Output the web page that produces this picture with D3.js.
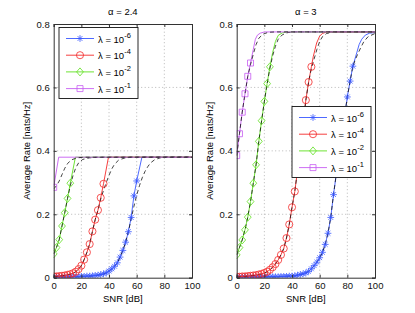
<!DOCTYPE html>
<html>
<head>
<meta charset="utf-8">
<script src="https://cdn.jsdelivr.net/npm/d3@7"></script>
<style>
  body { margin: 0; background: #fff; }
  svg { display: block; font-family: "Liberation Sans", Arial, sans-serif; }
</style>
</head>
<body>
<div id="chart"></div>
<script>
// SNR grid (dB) shared by the simulated points
const snr = [0, 2, 4, 6, 8, 10, 12, 14, 16, 18, 20, 22, 24, 26, 28, 30, 32, 34, 36, 38, 40,
  42, 44, 46, 48, 50, 52, 54, 56, 58, 60, 62, 64, 66, 68, 70, 72, 74, 76, 78, 80, 82, 84];

const lambdaExp = ["-6", "-4", "-2", "-1"];
const xTicks = [0, 20, 40, 60, 80, 100];
const yTicks = [0, 0.2, 0.4, 0.6, 0.8];

// alpha = 2.4 (simulated points, from SNR = 0)
const leftBlue = [0.002, 0.002, 0.002, 0.002, 0.002, 0.002, 0.003, 0.003, 0.003, 0.003, 0.004,
  0.004, 0.005, 0.005, 0.006, 0.007, 0.008, 0.01, 0.012, 0.015, 0.021, 0.028, 0.036, 0.047,
  0.065, 0.086, 0.112, 0.145, 0.19, 0.258, 0.305];
const leftRed = [0.004, 0.004, 0.005, 0.006, 0.007, 0.009, 0.011, 0.014, 0.019, 0.027, 0.038,
  0.057, 0.08, 0.106, 0.146, 0.183, 0.213, 0.252, 0.296];
const leftGreen = [0.075, 0.095, 0.12, 0.163, 0.205, 0.25, 0.298];
const leftPurple = [0.285];
// solid line after the last point
const leftBlueTail = [[63.8, 0.38], [100, 0.38]];
const leftRedTail = [[39.6, 0.38], [100, 0.38]];
const leftGreenTail = [[15.7, 0.38], [100, 0.38]];
const leftPurpleTail = [[3.6, 0.38], [100, 0.38]];
// dashed approximation where it leaves the points
const leftBlueDash = [[54, 0.145], [56, 0.185], [58, 0.225], [60, 0.26], [62, 0.29], [64, 0.315],
  [66, 0.335], [68, 0.35], [70, 0.362], [73, 0.372], [77, 0.378], [82, 0.38], [100, 0.38]];
const leftRedDash = [[32, 0.213], [34, 0.248], [36, 0.275], [38, 0.3], [40, 0.323], [42, 0.343],
  [44, 0.358], [47, 0.371], [51, 0.377], [56, 0.38], [100, 0.38]];
const leftGreenDash = [[10, 0.25], [12, 0.29], [14, 0.323], [16, 0.347], [18, 0.362], [21, 0.373],
  [26, 0.378], [32, 0.38], [100, 0.38]];
const leftPurpleDash = [[0, 0.28], [2, 0.29], [4, 0.305], [6, 0.325], [8, 0.345], [10, 0.36],
  [13, 0.372], [17, 0.378], [22, 0.38], [100, 0.38]];

// alpha = 3
const rightBlue = [0.002, 0.002, 0.002, 0.002, 0.002, 0.002, 0.002, 0.002, 0.002, 0.002, 0.003,
  0.003, 0.003, 0.003, 0.003, 0.003, 0.004, 0.004, 0.004, 0.005, 0.005, 0.006, 0.008, 0.01,
  0.012, 0.015, 0.02, 0.028, 0.038, 0.049, 0.063, 0.08, 0.105, 0.14, 0.19, 0.262, 0.326, 0.39,
  0.45, 0.51, 0.57, 0.62, 0.667];
const rightRed = [0.003, 0.003, 0.004, 0.004, 0.005, 0.006, 0.007, 0.008, 0.01, 0.012, 0.015,
  0.019, 0.025, 0.033, 0.043, 0.056, 0.072, 0.092, 0.125, 0.168, 0.222, 0.272, 0.339, 0.413,
  0.487, 0.56, 0.617, 0.665];
const rightGreen = [0.072, 0.095, 0.119, 0.151, 0.191, 0.24, 0.298, 0.356, 0.43, 0.495, 0.556,
  0.612, 0.665];
const rightPurple = [0.385, 0.454, 0.522, 0.58, 0.635, 0.677];
const rightBlueTail = [[86.8, 0.709], [88.5, 0.735], [90.4, 0.752], [93, 0.765], [96, 0.771], [100, 0.773]];
const rightRedTail = [[55.4, 0.698], [57.8, 0.74], [60, 0.762], [62, 0.77], [65, 0.775], [100, 0.775]];
const rightGreenTail = [[26, 0.71], [28, 0.745], [30, 0.764], [33, 0.772], [36, 0.775], [100, 0.775]];
const rightPurpleTail = [[12, 0.72], [13.5, 0.752], [15, 0.765], [17, 0.771], [20, 0.775], [100, 0.775]];
const rightBlueDash = [[84, 0.667], [86, 0.69], [88, 0.71], [90, 0.728], [92, 0.745], [95, 0.76], [100, 0.77]];
const rightRedDash = [[52, 0.617], [54, 0.66], [56, 0.69], [58, 0.72], [60, 0.745], [62, 0.76],
  [65, 0.77], [70, 0.775], [100, 0.775]];
const rightGreenDash = [[22, 0.612], [24, 0.66], [26, 0.7], [28, 0.73], [30, 0.752], [33, 0.766],
  [37, 0.773], [42, 0.775], [100, 0.775]];
const rightPurpleDash = [[8, 0.635], [10, 0.672], [12, 0.705], [14, 0.735], [16, 0.755],
  [19, 0.768], [23, 0.774], [28, 0.775], [100, 0.775]];

const colors = ["#3a58ff", "#f42a2a", "#5ee01e", "#c65cf2"];
const shapes = ["star", "circle", "diamond", "square"];

const W = 415, H = 313;
const svg = d3.select("#chart").append("svg").attr("width", W).attr("height", H);

function markerPath(shape) {
  if (shape === "star") return "M-3.4,0H3.4M0,-3.4V3.4M-2.4,-2.4L2.4,2.4M-2.4,2.4L2.4,-2.4";
  if (shape === "circle") return d3.symbol(d3.symbolCircle, 40)();
  if (shape === "diamond") return "M0,-4L3.4,0L0,4L-3.4,0Z";
  return "M-3,-3H3V3H-3Z";
}

function drawPanel(cfg) {
  const x = d3.scaleLinear().domain([0, 100]).range([cfg.left, cfg.left + 138.3]);
  const y = d3.scaleLinear().domain([0, 0.8]).range([277.7, 24]);
  const g = svg.append("g");

  const clipId = "clip" + cfg.id;
  svg.append("clipPath").attr("id", clipId).append("rect")
    .attr("x", x(0)).attr("y", y(0.8)).attr("width", x(100) - x(0)).attr("height", y(0) - y(0.8));

  // dotted grid
  g.append("g").selectAll("line").data(xTicks.slice(1, -1)).join("line")
    .attr("x1", (d) => x(d)).attr("x2", (d) => x(d)).attr("y1", y(0)).attr("y2", y(0.8))
    .attr("stroke", "#999").attr("stroke-width", 0.7).attr("stroke-dasharray", "1,2.5");
  g.append("g").selectAll("line").data(yTicks.slice(1, -1)).join("line")
    .attr("y1", (d) => y(d)).attr("y2", (d) => y(d)).attr("x1", x(0)).attr("x2", x(100))
    .attr("stroke", "#999").attr("stroke-width", 0.7).attr("stroke-dasharray", "1,2.5");

  const line = d3.line().x((d) => x(d[0])).y((d) => y(d[1]));
  const plot = g.append("g").attr("clip-path", `url(#${clipId})`);

  cfg.series.forEach((vals, i) => {
    const pts = vals.map((v, k) => [snr[k], v]);
    // solid line: simulated points then the saturated part
    plot.append("path").attr("d", line(pts.concat(cfg.tails[i])))
      .attr("fill", "none").attr("stroke", colors[i]).attr("stroke-width", 0.9);
    // dashed approximation: follows the points, then its own shoulder
    const dash = cfg.dashes[i];
    const dpts = pts.filter((p) => p[0] < dash[0][0]).concat(dash);
    plot.append("path").attr("d", line(dpts))
      .attr("fill", "none").attr("stroke", "#111").attr("stroke-width", 0.8)
      .attr("stroke-dasharray", "4,3");
    plot.append("g").selectAll("path").data(pts).join("path")
      .attr("transform", (d) => `translate(${x(d[0])},${y(d[1])})`)
      .attr("d", markerPath(shapes[i]))
      .attr("fill", "none").attr("stroke", colors[i]).attr("stroke-width", 0.8);
  });

  // axes, ticks inward
  const xAxis = g.append("g").attr("transform", `translate(0,${y(0)})`)
    .call(d3.axisBottom(x).tickValues(xTicks).tickSize(-3).tickPadding(5).tickFormat(d3.format("d")));
  const yAxis = g.append("g").attr("transform", `translate(${x(0)},0)`)
    .call(d3.axisLeft(y).tickValues(yTicks).tickSize(-3).tickPadding(4)
      .tickFormat((d) => (d === 0 ? "0" : d3.format(".1f")(d))));
  g.append("g").attr("transform", `translate(0,${y(0.8)})`)
    .call(d3.axisTop(x).tickValues(xTicks).tickSize(-3).tickFormat(""));
  g.append("g").attr("transform", `translate(${x(100)},0)`)
    .call(d3.axisRight(y).tickValues(yTicks).tickSize(-3).tickFormat(""));
  g.selectAll(".domain").attr("stroke", "#333");
  g.selectAll(".tick line").attr("stroke", "#333");
  [xAxis, yAxis].forEach((a) => a.selectAll("text").attr("font-size", 9.5).attr("fill", "#111")
    .attr("font-family", "Liberation Sans, Arial, sans-serif"));

  svg.append("text").attr("x", (x(0) + x(100)) / 2).attr("y", 15)
    .attr("text-anchor", "middle").attr("font-size", 9.5).text(cfg.title);
  svg.append("text").attr("x", (x(0) + x(100)) / 2).attr("y", 302)
    .attr("text-anchor", "middle").attr("font-size", 9.5).text("SNR [dB]");
  svg.append("text")
    .attr("transform", `translate(${x(0) - 24},${(y(0) + y(0.8)) / 2}) rotate(-90)`)
    .attr("text-anchor", "middle").attr("font-size", 9.5).text("Average Rate [nats/Hz]");

  // legend
  const lg = svg.append("g").attr("transform", `translate(${cfg.legend[0]},${cfg.legend[1]})`);
  lg.append("rect").attr("width", 79).attr("height", 71)
    .attr("fill", "#fff").attr("stroke", "#111").attr("stroke-width", 0.9);
  lambdaExp.forEach((e, i) => {
    const yy = 11 + i * 16.7;
    lg.append("line").attr("x1", 7).attr("x2", 35).attr("y1", yy).attr("y2", yy)
      .attr("stroke", colors[i]).attr("stroke-width", 0.9);
    lg.append("path").attr("transform", `translate(21,${yy})`).attr("d", markerPath(shapes[i]))
      .attr("fill", "none").attr("stroke", colors[i]).attr("stroke-width", 0.8);
    const t = lg.append("text").attr("x", 39).attr("y", yy + 4).attr("font-size", 9.5);
    t.append("tspan").text("\u03bb = 10");
    t.append("tspan").attr("dy", -5).attr("font-size", 7.5).text(e);
  });
}

drawPanel({
  id: "L", left: 53.7, title: "\u03b1 = 2.4", legend: [59, 27.5],
  series: [leftBlue, leftRed, leftGreen, leftPurple],
  tails: [leftBlueTail, leftRedTail, leftGreenTail, leftPurpleTail],
  dashes: [leftBlueDash, leftRedDash, leftGreenDash, leftPurpleDash],
});
drawPanel({
  id: "R", left: 236.7, title: "\u03b1 = 3", legend: [292, 106.5],
  series: [rightBlue, rightRed, rightGreen, rightPurple],
  tails: [rightBlueTail, rightRedTail, rightGreenTail, rightPurpleTail],
  dashes: [rightBlueDash, rightRedDash, rightGreenDash, rightPurpleDash],
});
</script>
</body>
</html>
